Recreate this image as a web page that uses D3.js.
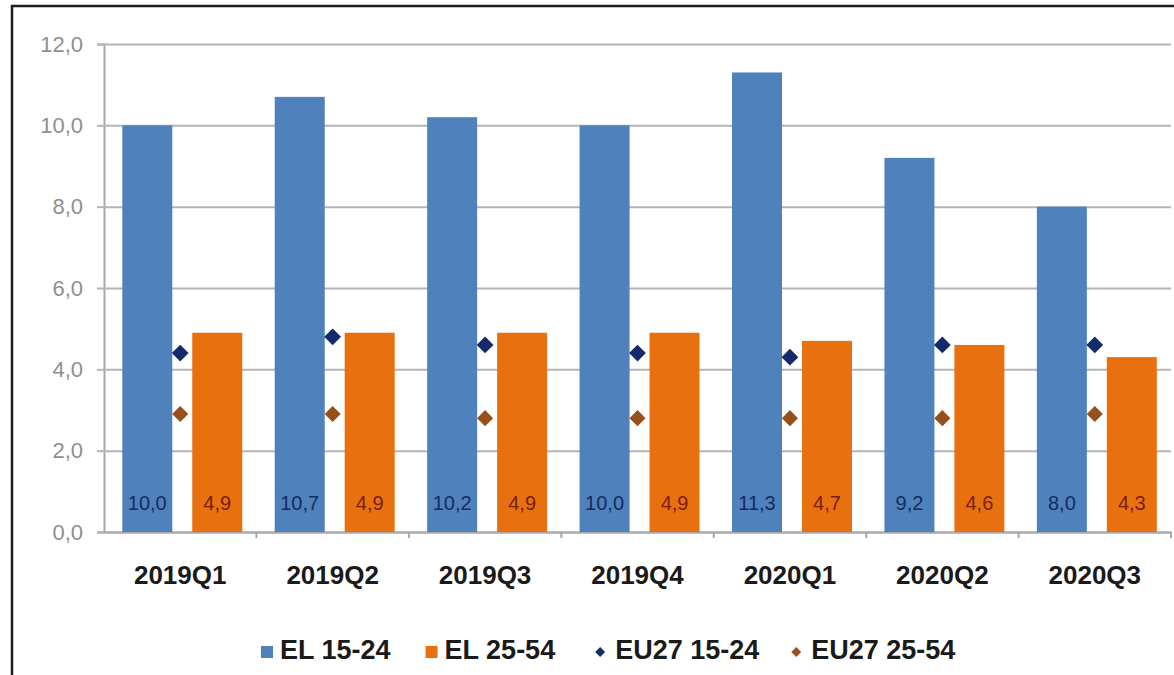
<!DOCTYPE html>
<html>
<head>
<meta charset="utf-8">
<script src="https://cdn.jsdelivr.net/npm/d3@7"></script>
<style>
  html, body { margin: 0; padding: 0; background: #ffffff; }
  svg { display: block; font-family: "Liberation Sans", Arial, sans-serif; }
</style>
</head>
<body>
<svg id="chart" width="1174" height="675"></svg>
<script>
// ---- data ----
const categories = ["2019Q1", "2019Q2", "2019Q3", "2019Q4", "2020Q1", "2020Q2", "2020Q3"];
const el1524 = [10.0, 10.7, 10.2, 10.0, 11.3, 9.2, 8.0];
const el2554 = [4.9, 4.9, 4.9, 4.9, 4.7, 4.6, 4.3];
const eu1524 = [4.4, 4.8, 4.6, 4.4, 4.3, 4.6, 4.6];
const eu2554 = [2.9, 2.9, 2.8, 2.8, 2.8, 2.8, 2.9];
const yTicks = [0, 2, 4, 6, 8, 10, 12];
const seriesNames = ["EL 15-24", "EL 25-54", "EU27 15-24", "EU27 25-54"];

(function () {
// ---- styles ----
const C = {
  blue: "#4f81bd", orange: "#e8700f", navy: "#142a6b", brown: "#97501a",
  blueLbl: "#152c5e", orangeLbl: "#762006", grid: "#b4b4b4", axis: "#a8a8a8",
  yLbl: "#8f8f8f", text: "#1a1a1a"
};

const svg = d3.select("#chart");
svg.append("rect").attr("width", 1174).attr("height", 675).attr("fill", "#fff");
// outer frame
svg.append("rect").attr("x", 12).attr("y", 6).attr("width", 1220).attr("height", 720)
  .attr("fill", "none").attr("stroke", "#1e1e1e").attr("stroke-width", 2.5);

const pLeft = 104, pRight = 1171, pTop = 44, pBottom = 532;
const x = d3.scaleBand().domain(categories).range([pLeft, pRight]).paddingInner(0).paddingOuter(0);
const y = d3.scaleLinear().domain([0, 12]).range([pBottom, pTop]);
const bw = x.bandwidth();
const fmt = v => d3.format(".1f")(v).replace(".", ",");

// gridlines + y ticks
const yAxis = d3.axisLeft(y).tickValues(yTicks).tickFormat(fmt).tickSize(7).tickPadding(14);
const gy = svg.append("g").attr("transform", `translate(${pLeft},0)`).call(yAxis);
gy.select(".domain").attr("stroke", C.axis).attr("stroke-width", 2);
gy.selectAll(".tick line").attr("stroke", C.grid).attr("stroke-width", 2);
gy.selectAll(".tick text").attr("fill", C.yLbl).attr("font-size", 22)
  .attr("font-family", "'Liberation Sans', Arial, sans-serif");
gy.selectAll(".tick").append("line")
  .attr("x1", 0).attr("x2", pRight - pLeft)
  .attr("stroke", C.grid).attr("stroke-width", 2);

// x axis
const xAxis = d3.axisBottom(x).tickSize(0).tickPadding(34);
const gx = svg.append("g").attr("transform", `translate(0,${pBottom})`).call(xAxis);
gx.select(".domain").attr("stroke", C.axis).attr("stroke-width", 2);
gx.selectAll(".tick text").attr("fill", C.text).attr("font-size", 26).attr("font-weight", "bold")
  .attr("font-family", "'Liberation Sans', Arial, sans-serif");
// category boundary ticks
const bounds = categories.slice(1).map(c => x(c)).concat([pRight]);
svg.append("g").selectAll("line").data(bounds)
  .join("line")
  .attr("x1", d => d).attr("x2", d => d)
  .attr("y1", pBottom).attr("y2", pBottom + 6)
  .attr("stroke", C.axis).attr("stroke-width", 2);

// bars
const barW = bw * 0.328;
const offBlue = bw * 0.12, offOrange = bw * 0.579;
const bars = svg.append("g");
bars.selectAll(".b1").data(el1524).join("rect").attr("class", "b1")
  .attr("x", (d, i) => x(categories[i]) + offBlue).attr("width", barW)
  .attr("y", d => y(d)).attr("height", d => y(0) - y(d)).attr("fill", C.blue);
bars.selectAll(".b2").data(el2554).join("rect").attr("class", "b2")
  .attr("x", (d, i) => x(categories[i]) + offOrange).attr("width", barW)
  .attr("y", d => y(d)).attr("height", d => y(0) - y(d)).attr("fill", C.orange);

// value labels
const lbl = svg.append("g").attr("font-size", 20).attr("text-anchor", "middle");
lbl.selectAll(".l1").data(el1524).join("text").attr("class", "l1")
  .attr("x", (d, i) => x(categories[i]) + offBlue + barW / 2).attr("y", pBottom - 22)
  .attr("fill", C.blueLbl).text(fmt);
lbl.selectAll(".l2").data(el2554).join("text").attr("class", "l2")
  .attr("x", (d, i) => x(categories[i]) + offOrange + barW / 2).attr("y", pBottom - 22)
  .attr("fill", C.orangeLbl).text(fmt);

// diamonds
const pts = svg.append("g");
pts.selectAll(".d1").data(eu1524).join("path").attr("class", "d1")
  .attr("d", d3.symbol().type(d3.symbolDiamond2).size(180)())
  .attr("transform", (d, i) => `translate(${x(categories[i]) + bw / 2},${y(d)})`)
  .attr("fill", C.navy);
pts.selectAll(".d2").data(eu2554).join("path").attr("class", "d2")
  .attr("d", d3.symbol().type(d3.symbolDiamond2).size(165)())
  .attr("transform", (d, i) => `translate(${x(categories[i]) + bw / 2},${y(d)})`)
  .attr("fill", C.brown);

// legend
const legColors = [C.blue, C.orange, C.navy, C.brown];
const legShapes = ["square", "square", "diamond", "diamond"];
const legGaps = [35, 40, 32, 0];
const leg = svg.append("g");
let cx = 261;
const ly = 652;
seriesNames.forEach((name, i) => {
  const sq = legShapes[i] === "square";
  const mw = sq ? 12 : 10;
  if (sq) {
    leg.append("rect").attr("x", cx).attr("y", ly - 6).attr("width", 12).attr("height", 12)
      .attr("fill", legColors[i]);
  } else {
    leg.append("path").attr("d", d3.symbol().type(d3.symbolDiamond2).size(62)())
      .attr("transform", `translate(${cx + 5},${ly})`).attr("fill", legColors[i]);
  }
  const gap = sq ? 7 : 10;
  const t = leg.append("text").attr("x", cx + mw + gap).attr("y", ly + 7)
    .attr("font-size", 27).attr("font-weight", "bold").attr("fill", C.text).text(name);
  const w = t.node().getComputedTextLength();
  cx = cx + mw + gap + w + legGaps[i];
});
})();
</script>
</body>
</html>
